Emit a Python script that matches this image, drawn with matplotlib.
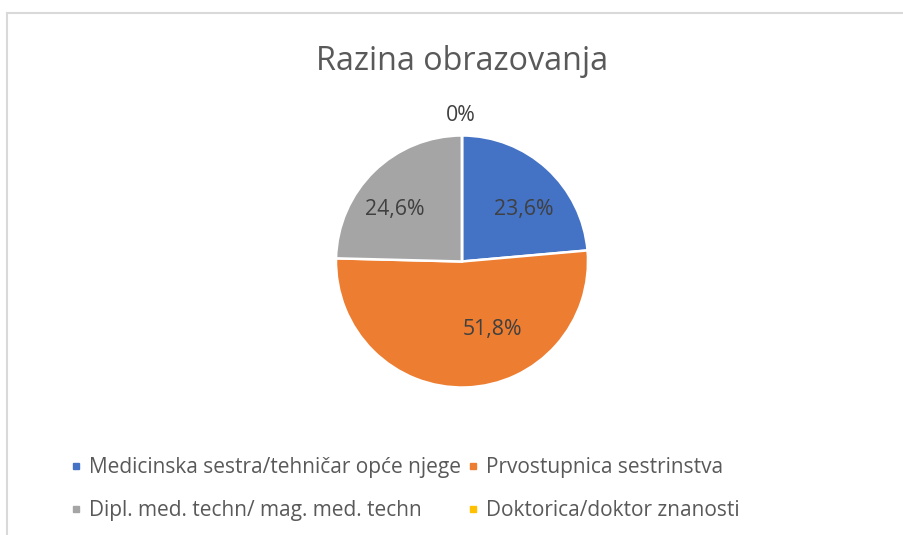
import matplotlib.pyplot as plt
import numpy as np
from matplotlib.lines import Line2D

# data
categories = ['Medicinska sestra/tehničar opće njege', 'Prvostupnica sestrinstva',
              'Dipl. med. techn/ mag. med. techn', 'Doktorica/doktor znanosti']
shares = [23.6, 51.8, 24.6, 0.0]
value_labels = ['23,6%', '51,8%', '24,6%', '0%']
colors = ['#4472C4', '#ED7D31', '#A5A5A5', '#FFC000']

# Excel "best fit" label placement (polar, in pie radius units)
label_angle = [39.7, -66.0, 142.4, 90.5]
label_radius = [0.64, 0.59, 0.67, 1.155]

W, H = 904, 535
fig = plt.figure(figsize=(W / 100, H / 100), dpi=100)
plt.rcParams['font.family'] = ['Open Sans', 'DejaVu Sans']

# chart border (only top and left edges are visible in the screenshot)
fig.add_artist(Line2D([7 / W, 7 / W], [0, 1 - 13 / H], color='#D9D9D9', lw=1.5))
fig.add_artist(Line2D([7 / W, 1], [1 - 13 / H, 1 - 13 / H], color='#D9D9D9', lw=1.5))

fig.text(462 / W, 1 - 61 / H, 'Razina obrazovanja', ha='center', va='center',
         fontsize=23.2, color='#595959')

# pie
cx, cy, r = 462, 261.5, 126
ax = fig.add_axes([(cx - r) / W, 1 - (cy + r) / H, 2 * r / W, 2 * r / H])
wedges, _ = ax.pie(shares, colors=colors, startangle=90, counterclock=False,
                   wedgeprops=dict(edgecolor='white', linewidth=1.8))
ax.set_xlim(-1, 1)
ax.set_ylim(-1, 1)
ax.set_aspect('equal')

for lab, ang, rad in zip(value_labels, label_angle, label_radius):
    a = np.deg2rad(ang)
    ax.text(rad * np.cos(a), rad * np.sin(a), lab, ha='center', va='center',
            fontsize=15.3, color='#404040', clip_on=False)

# legend, filled row by row like Excel
handles = [Line2D([], [], marker='s', linestyle='none', markersize=5,
                  markerfacecolor=c, markeredgecolor=c) for c in colors]
order = [0, 2, 1, 3]
leg = fig.legend([handles[i] for i in order], [categories[i] for i in order],
                 ncol=2, loc='upper left',
                 bbox_to_anchor=(60 / W, 1 - 447 / H), frameon=False,
                 fontsize=15, handlelength=0.5, handletextpad=0.4,
                 columnspacing=0.3, labelspacing=1.05, borderpad=0)
for t in leg.get_texts():
    t.set_color('#595959')

fig.savefig('out.png', dpi=100)
